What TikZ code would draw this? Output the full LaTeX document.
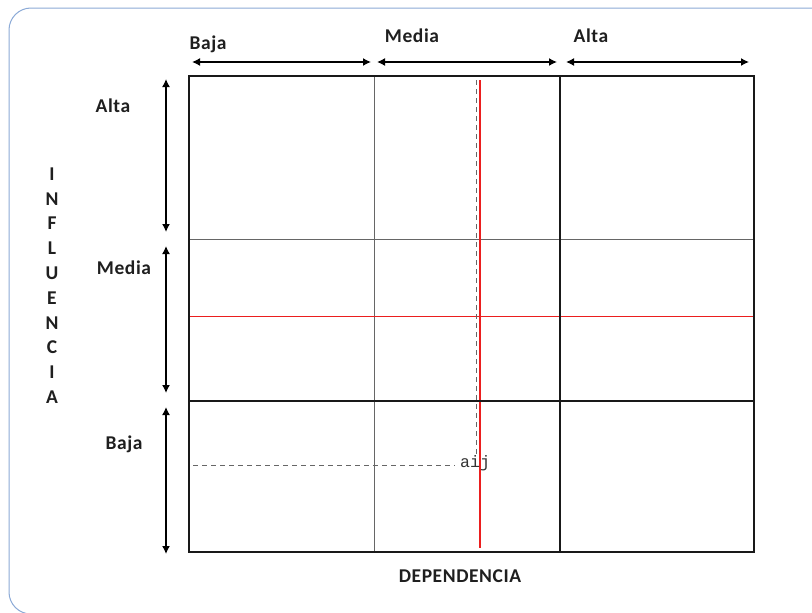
\documentclass[tikz,border=0pt]{standalone}
\usepackage{fontspec}
\setmainfont{Carlito}[LetterSpace=3]
\newfontfamily\aijfont{Liberation Mono}
\usetikzlibrary{arrows.meta}
\definecolor{framec}{RGB}{140,170,215}
\definecolor{redc}{RGB}{235,30,30}
\begin{document}
\begin{tikzpicture}[x=1pt,y=-1pt,
  lbl/.style={font=\fontsize{19.5}{22}\selectfont\bfseries, text=black!88, inner sep=0pt},
  dbl/.style={line width=1.4pt, {Latex[length=8pt,width=8pt]}-{Latex[length=8pt,width=8pt]}},
  thick line/.style={line width=1.8pt, black!90},
  thin line/.style={line width=0.9pt, black!60},
  redline/.style={line width=1pt, redc},
  dash line/.style={line width=0.9pt, black!60, dash pattern=on 5pt off 4pt}]
\useasboundingbox (0,0) rectangle (812,613);
\fill[white] (0,0) rectangle (812,613);
% outer frame
\draw[line width=1pt, framec, rounded corners=22pt] (830,8) -- (9,8) -- (9,614) -- (60,614);
% grid
\coordinate (tl) at (189,76);
\coordinate (br) at (754,552);
\draw[thin line] (374,76) -- (374,552);
\draw[thin line] (189,239) -- (754,239);
\draw[redline] (189,316) -- (754,316);
\draw[dash line] (476,80) -- (476,455);
\draw[dash line] (193,465) -- (455,465);
\draw[line width=1.2pt, redc] (480,80) -- (480,548);
\node[anchor=west, inner sep=0pt, font=\aijfont\fontsize{16.5}{18}\selectfont, text=black!80] (aij) at (460,463) {aij};
\draw[thick line] (560,76) -- (560,552);
\draw[thick line] (189,401) -- (754,401);
\draw[thick line] (tl) rectangle (br);
% top arrows
\coordinate (t1a) at (192,62); \coordinate (t1b) at (371,62);
\coordinate (t2a) at (377,62); \coordinate (t2b) at (557,62);
\coordinate (t3a) at (566,62); \coordinate (t3b) at (749,62);
\draw[dbl] (t1a) -- (t1b);
\draw[dbl] (t2a) -- (t2b);
\draw[dbl] (t3a) -- (t3b);
\node[lbl] (tb) at (208,44) {Baja};
\node[lbl] (tm) at (412,36) {Media};
\node[lbl] (ta) at (591,36) {Alta};
% left arrows
\coordinate (l1a) at (166,79); \coordinate (l1b) at (166,232);
\coordinate (l2a) at (166,246); \coordinate (l2b) at (166,393);
\coordinate (l3a) at (166,407); \coordinate (l3b) at (166,554);
\draw[dbl] (l1a) -- (l1b);
\draw[dbl] (l2a) -- (l2b);
\draw[dbl] (l3a) -- (l3b);
\node[lbl] (la) at (113,106) {Alta};
\node[lbl] (lm) at (124,268) {Media};
\node[lbl] (lb) at (124,444) {Baja};
% INFLUENCIA
\foreach \c [count=\i from 0] in {I,N,F,L,U,E,N,C,I,A}
  \node[lbl] (inf\i) at (52,{174+\i*24.8}) {\c};
\node[lbl] (dep) at (460,576) {DEPENDENCIA};
\end{tikzpicture}
\end{document}
